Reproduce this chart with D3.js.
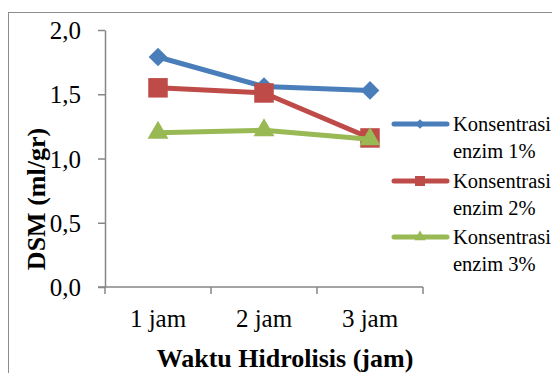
<!DOCTYPE html>
<html>
<head>
<meta charset="utf-8">
<script src="https://cdn.jsdelivr.net/npm/d3@7"></script>
<style>
  html, body { margin: 0; padding: 0; background: #fff; }
  svg { display: block; }
  svg text { font-family: "Liberation Serif", "Times New Roman", serif; }
</style>
</head>
<body>
<svg id="chart" width="552" height="373"></svg>
<script>
// Hydrolysis time categories and DSM values per enzyme concentration
const categories = ["1 jam", "2 jam", "3 jam"];
const enzim1 = [1.79, 1.56, 1.53];
const enzim2 = [1.55, 1.51, 1.16];
const enzim3 = [1.20, 1.22, 1.15];
const seriesNames = [["Konsentrasi", "enzim 1%"], ["Konsentrasi", "enzim 2%"], ["Konsentrasi", "enzim 3%"]];
const yTicks = [0, 0.5, 1.0, 1.5, 2.0];

const colors = ["#4a7ebb", "#be4b48", "#98b954"];
// diamond is a square turned 45 degrees
const symbols = [d3.symbolSquare, d3.symbolSquare, d3.symbolTriangle];
const rotations = [45, 0, 0];
const symbolSizes = [175, 380, 190];
const legendSymbolSizes = [45, 100, 55];

const svg = d3.select("#chart");

// outer chart frame
svg.append("rect")
  .attr("x", 8.5).attr("y", 12.5)
  .attr("width", 560).attr("height", 380)
  .attr("fill", "none").attr("stroke", "#8c8c8c").attr("stroke-width", 1);

const plot = { left: 105, right: 423, top: 30, bottom: 287 };

const x = d3.scaleBand().domain(categories).range([plot.left, plot.right]);
const y = d3.scaleLinear().domain([0, 2]).range([plot.bottom, plot.top]);

const fmt = d => d3.format(".1f")(d).replace(".", ",");

// y axis
const yAxis = svg.append("g")
  .attr("transform", `translate(${plot.left},0)`)
  .call(d3.axisLeft(y).tickValues(yTicks).tickFormat(fmt).tickSize(7).tickSizeOuter(0));
yAxis.attr("font-family", null).attr("font-size", null);
yAxis.select(".domain").attr("stroke", "#868686").attr("stroke-width", 1.5);
yAxis.selectAll(".tick line").attr("stroke", "#868686").attr("stroke-width", 1.5);
yAxis.selectAll(".tick text")
  .attr("font-size", 25).attr("fill", "#000")
  .attr("x", -24).attr("dy", "0.34em");

// x axis with tick marks on category boundaries
const xAxisG = svg.append("g").attr("transform", `translate(0,${plot.bottom})`);
xAxisG.append("line")
  .attr("x1", plot.left - 7).attr("x2", plot.right)
  .attr("stroke", "#868686").attr("stroke-width", 1.5);
const boundaries = categories.map(c => x(c)).concat([x(categories[categories.length - 1]) + x.bandwidth()]);
xAxisG.selectAll("line.tk").data(boundaries).join("line")
  .attr("class", "tk")
  .attr("x1", d => d).attr("x2", d => d)
  .attr("y1", 0).attr("y2", 7)
  .attr("stroke", "#868686").attr("stroke-width", 1.5);
xAxisG.selectAll("text").data(categories).join("text")
  .attr("x", d => x(d) + x.bandwidth() / 2)
  .attr("y", 40)
  .attr("text-anchor", "middle")
  .attr("font-size", 25).attr("fill", "#000")
  .text(d => d);

// axis titles
svg.append("text")
  .attr("x", 285).attr("y", 367)
  .attr("text-anchor", "middle")
  .attr("font-size", 26).attr("font-weight", "bold")
  .text("Waktu Hidrolisis (jam)");
svg.append("text")
  .attr("transform", "translate(45,199) rotate(-90)")
  .attr("text-anchor", "middle")
  .attr("font-size", 26).attr("font-weight", "bold")
  .text("DSM (ml/gr)");

// series lines and markers
const series = [enzim1, enzim2, enzim3];
const line = d3.line()
  .x((d, i) => x(categories[i]) + x.bandwidth() / 2)
  .y(d => y(d));

series.forEach((vals, s) => {
  const g = svg.append("g");
  g.append("path")
    .datum(vals)
    .attr("d", line)
    .attr("fill", "none")
    .attr("stroke", colors[s])
    .attr("stroke-width", 5)
    .attr("stroke-linejoin", "round");
  g.selectAll("path.m").data(vals).join("path")
    .attr("class", "m")
    .attr("transform", (d, i) => `translate(${x(categories[i]) + x.bandwidth() / 2},${y(d)}) rotate(${rotations[s]})`)
    .attr("d", d3.symbol().type(symbols[s]).size(symbolSizes[s]))
    .attr("fill", colors[s]);
});

// legend
const legendY = [124, 181, 237];
seriesNames.forEach((name, s) => {
  const g = svg.append("g").attr("transform", `translate(0,${legendY[s]})`);
  g.append("line")
    .attr("x1", 394).attr("x2", 447)
    .attr("stroke", colors[s]).attr("stroke-width", 5)
    .attr("stroke-linecap", "round");
  g.append("path")
    .attr("transform", `translate(420,0) rotate(${rotations[s]})`)
    .attr("d", d3.symbol().type(symbols[s]).size(legendSymbolSizes[s]))
    .attr("fill", colors[s]);
  g.append("text")
    .attr("x", 453).attr("y", 7)
    .attr("font-size", 20.5).attr("fill", "#000")
    .text(name[0]);
  g.append("text")
    .attr("x", 453).attr("y", 34)
    .attr("font-size", 20.5).attr("fill", "#000")
    .text(name[1]);
});
</script>
</body>
</html>
